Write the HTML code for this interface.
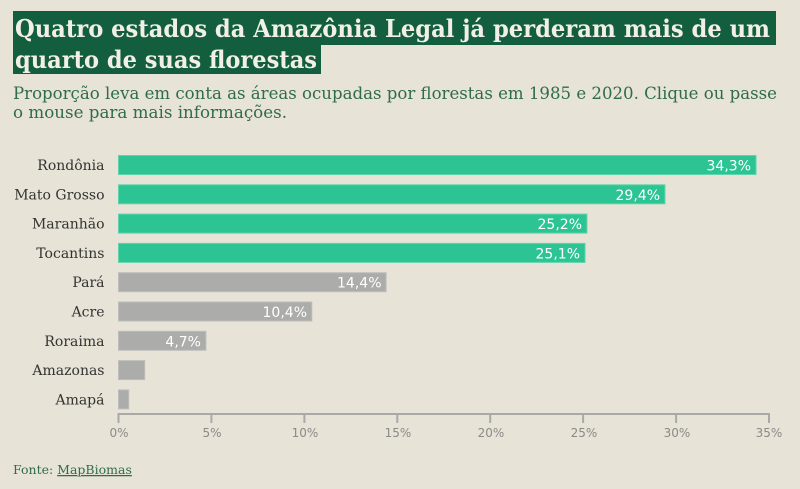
<!DOCTYPE html>
<html>
<head>
<meta charset="utf-8">
<style>
html,body{margin:0;padding:0;}
body{width:800px;height:489px;background:#e7e3d7;overflow:hidden;}
svg{display:block;}
</style>
</head>
<body>
<svg width="800" height="489" viewBox="0 0 800 489" xmlns="http://www.w3.org/2000/svg">
  <rect x="0" y="0" width="800" height="489" fill="#e7e3d7"/>
  <!-- Title -->
  <rect x="13" y="11" width="763" height="34" fill="#135e3f"/>
  <rect x="13" y="44" width="308" height="30" fill="#135e3f"/>
  <g font-family="'DejaVu Serif', 'Liberation Serif', serif" font-weight="bold" font-size="24" fill="#f2efe6">
    <text x="15" y="37" textLength="755" lengthAdjust="spacingAndGlyphs">Quatro estados da Amazônia Legal já perderam mais de um</text>
    <text x="15" y="68" textLength="302" lengthAdjust="spacingAndGlyphs">quarto de suas florestas</text>
  </g>
  <!-- Subtitle -->
  <g font-family="'DejaVu Serif', 'Liberation Serif', serif" font-size="16.5" fill="#2f6b4d">
    <text x="13" y="99" textLength="764" lengthAdjust="spacingAndGlyphs">Proporção leva em conta as áreas ocupadas por florestas em 1985 e 2020. Clique ou passe</text>
    <text x="13" y="118" textLength="274" lengthAdjust="spacingAndGlyphs">o mouse para mais informações.</text>
  </g>
  <!-- Bars -->
  <g stroke-width="1">
    <rect x="118.5" y="155.5" width="637.5" height="19" fill="#2dc493" stroke="#5fd3ab"/>
    <rect x="118.5" y="184.8" width="546.4" height="19" fill="#2dc493" stroke="#5fd3ab"/>
    <rect x="118.5" y="214.1" width="468.4" height="19" fill="#2dc493" stroke="#5fd3ab"/>
    <rect x="118.5" y="243.4" width="466.5" height="19" fill="#2dc493" stroke="#5fd3ab"/>
    <rect x="118.5" y="272.7" width="267.6" height="19" fill="#acacab" stroke="#bdbdbb"/>
    <rect x="118.5" y="302.0" width="193.3" height="19" fill="#acacab" stroke="#bdbdbb"/>
    <rect x="118.5" y="331.3" width="87.4" height="19" fill="#acacab" stroke="#bdbdbb"/>
    <rect x="118.5" y="360.6" width="26.2" height="19" fill="#acacab" stroke="#bdbdbb"/>
    <rect x="118.5" y="389.9" width="10.2" height="19" fill="#acacab" stroke="#bdbdbb"/>
  </g>
  <!-- Category labels -->
  <g font-family="'DejaVu Serif', 'Liberation Serif', serif" font-size="14" fill="#333333" text-anchor="end">
    <text x="104.5" y="170">Rondônia</text>
    <text x="104.5" y="199.3">Mato Grosso</text>
    <text x="104.5" y="228.6">Maranhão</text>
    <text x="104.5" y="257.9">Tocantins</text>
    <text x="104.5" y="287.2">Pará</text>
    <text x="104.5" y="316.5">Acre</text>
    <text x="104.5" y="345.8">Roraima</text>
    <text x="104.5" y="375.1">Amazonas</text>
    <text x="104.5" y="404.4">Amapá</text>
  </g>
  <!-- Value labels -->
  <g font-family="'DejaVu Sans', 'Liberation Sans', sans-serif" font-size="14" fill="#ffffff" text-anchor="end">
    <text x="751" y="170.5">34,3%</text>
    <text x="660" y="199.8">29,4%</text>
    <text x="582" y="229.1">25,2%</text>
    <text x="580" y="258.4">25,1%</text>
    <text x="381.5" y="287.7">14,4%</text>
    <text x="307" y="317">10,4%</text>
    <text x="201" y="346.3">4,7%</text>
  </g>
  <!-- Axis -->
  <g stroke="#a9a9a9" stroke-width="2">
    <line x1="118.5" y1="414" x2="769.5" y2="414"/>
    <line x1="118.5" y1="413" x2="118.5" y2="423"/>
    <line x1="211.4" y1="413" x2="211.4" y2="423"/>
    <line x1="304.4" y1="413" x2="304.4" y2="423"/>
    <line x1="397.3" y1="413" x2="397.3" y2="423"/>
    <line x1="490.2" y1="413" x2="490.2" y2="423"/>
    <line x1="583.1" y1="413" x2="583.1" y2="423"/>
    <line x1="676.1" y1="413" x2="676.1" y2="423"/>
    <line x1="769" y1="413" x2="769" y2="423"/>
  </g>
  <g font-family="'DejaVu Sans', 'Liberation Sans', sans-serif" font-size="12" fill="#8a8a8a" text-anchor="middle">
    <text x="119" y="437">0%</text>
    <text x="212" y="437">5%</text>
    <text x="305" y="437">10%</text>
    <text x="398" y="437">15%</text>
    <text x="491" y="437">20%</text>
    <text x="584" y="437">25%</text>
    <text x="677" y="437">30%</text>
    <text x="769" y="437">35%</text>
  </g>
  <!-- Source -->
  <g font-family="'DejaVu Serif', 'Liberation Serif', serif" font-size="12.5" fill="#2f6b4d">
    <text x="13" y="474">Fonte: <tspan text-decoration="underline">MapBiomas</tspan></text>
  </g>
</svg>
</body>
</html>
